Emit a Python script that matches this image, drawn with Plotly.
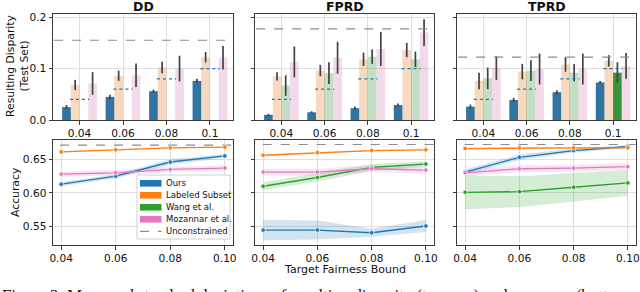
import plotly.graph_objects as go

# ---------------- data ----------------
bounds = [0.04, 0.06, 0.08, 0.10]
bar_labels = ["0.04", "0.06", "0.08", "0.1"]
line_labels = ["0.04", "0.06", "0.08", "0.10"]
metrics = ["DD", "FPRD", "TPRD"]
methods = ["Ours", "Labeled Subset", "Wang et al.", "Mozannar et al."]
unc_name = "Unconstrained"

# resulting disparity (test set): mean and std per method
dd_ours = [0.025, 0.045, 0.056, 0.076]
dd_ours_sd = [0.004, 0.004, 0.003, 0.004]
dd_lab = [0.068, 0.086, 0.102, 0.122]
dd_lab_sd = [0.010, 0.010, 0.011, 0.010]
dd_wang = [None, None, None, None]
dd_wang_sd = [None, None, None, None]
dd_moz = [0.071, 0.087, 0.100, 0.121]
dd_moz_sd = [0.022, 0.023, 0.025, 0.023]

fprd_ours = [0.010, 0.015, 0.023, 0.029]
fprd_ours_sd = [0.002, 0.002, 0.003, 0.003]
fprd_lab = [0.085, 0.096, 0.118, 0.136]
fprd_lab_sd = [0.008, 0.011, 0.013, 0.014]
fprd_wang = [0.067, 0.091, 0.123, 0.118]
fprd_wang_sd = [0.020, 0.021, 0.014, 0.015]
fprd_moz = [0.113, 0.121, 0.138, 0.170]
fprd_moz_sd = [0.030, 0.031, 0.033, 0.026]

tprd_ours = [0.026, 0.039, 0.054, 0.073]
tprd_ours_sd = [0.004, 0.004, 0.004, 0.003]
tprd_lab = [0.076, 0.094, 0.108, 0.115]
tprd_lab_sd = [0.016, 0.015, 0.014, 0.011]
tprd_wang = [0.081, 0.096, 0.092, 0.092]
tprd_wang_sd = [0.021, 0.020, 0.017, 0.020]
tprd_moz = [0.101, 0.099, 0.099, 0.105]
tprd_moz_sd = [0.023, 0.030, 0.030, 0.025]

unc_disp = [0.155, 0.177, 0.122]

# accuracy: mean and std per method
acc_dd_ours = [0.613, 0.625, 0.646, 0.655]
acc_dd_ours_sd = [0.003, 0.003, 0.004, 0.003]
acc_dd_lab = [0.661, 0.664, 0.667, 0.668]
acc_dd_lab_sd = [0.001, 0.001, 0.001, 0.001]
acc_dd_wang = [None, None, None, None]
acc_dd_wang_sd = [None, None, None, None]
acc_dd_moz = [0.628, 0.630, 0.635, 0.637]
acc_dd_moz_sd = [0.004, 0.004, 0.004, 0.004]

acc_fprd_ours = [0.545, 0.545, 0.541, 0.551]
acc_fprd_ours_sd = [0.015, 0.014, 0.006, 0.009]
acc_fprd_lab = [0.656, 0.660, 0.663, 0.664]
acc_fprd_lab_sd = [0.001, 0.001, 0.001, 0.001]
acc_fprd_wang = [0.610, 0.623, 0.638, 0.643]
acc_fprd_wang_sd = [0.006, 0.006, 0.005, 0.004]
acc_fprd_moz = [0.631, 0.631, 0.636, 0.634]
acc_fprd_moz_sd = [0.005, 0.005, 0.005, 0.005]

acc_tprd_ours = [0.631, 0.653, 0.663, 0.669]
acc_tprd_ours_sd = [0.004, 0.004, 0.003, 0.002]
acc_tprd_lab = [0.666, 0.667, 0.667, 0.667]
acc_tprd_lab_sd = [0.001, 0.001, 0.001, 0.001]
acc_tprd_wang = [0.601, 0.602, 0.6085, 0.615]
acc_tprd_wang_sd = [0.025, 0.023, 0.021, 0.019]
acc_tprd_moz = [0.630, 0.636, 0.637, 0.639]
acc_tprd_moz_sd = [0.005, 0.005, 0.005, 0.005]

unc_acc = [0.671, 0.672, 0.672]

caption = ("Figure 2: Mean and standard deviations of resulting disparity "
           "(top row) and accuracy (bottom row) of the methods")

# ---------------- style ----------------
bar_full = ["#3274a1", "#e1812c", "#3a923a", "#d684bd"]
bar_faded = ["rgba(50,116,161,0.3)", "rgba(225,129,44,0.3)",
             "rgba(58,146,58,0.3)", "rgba(214,132,189,0.3)"]
line_col = ["#1f77b4", "#ff7f0e", "#2ca02c", "#e377c2"]
band_col = ["rgba(31,119,180,0.2)", "rgba(255,127,14,0.2)",
            "rgba(44,160,44,0.2)", "rgba(227,119,194,0.2)"]
unc_col = "#8c8c8c"

W, H = 640, 292
xdom = [(53, 233), (255, 434), (457, 636)]
top_y = (14, 120)
bot_y = (139.5, 245)


def px_x(a, b):
    return [a / W, b / W]


def px_y(a, b):
    return [1 - b / H, 1 - a / H]


disp = {
    "DD": [(dd_ours, dd_ours_sd), (dd_lab, dd_lab_sd), (dd_wang, dd_wang_sd), (dd_moz, dd_moz_sd)],
    "FPRD": [(fprd_ours, fprd_ours_sd), (fprd_lab, fprd_lab_sd), (fprd_wang, fprd_wang_sd), (fprd_moz, fprd_moz_sd)],
    "TPRD": [(tprd_ours, tprd_ours_sd), (tprd_lab, tprd_lab_sd), (tprd_wang, tprd_wang_sd), (tprd_moz, tprd_moz_sd)],
}
acc = {
    "DD": [(acc_dd_ours, acc_dd_ours_sd), (acc_dd_lab, acc_dd_lab_sd), (acc_dd_wang, acc_dd_wang_sd), (acc_dd_moz, acc_dd_moz_sd)],
    "FPRD": [(acc_fprd_ours, acc_fprd_ours_sd), (acc_fprd_lab, acc_fprd_lab_sd), (acc_fprd_wang, acc_fprd_wang_sd), (acc_fprd_moz, acc_fprd_moz_sd)],
    "TPRD": [(acc_tprd_ours, acc_tprd_ours_sd), (acc_tprd_lab, acc_tprd_lab_sd), (acc_tprd_wang, acc_tprd_wang_sd), (acc_tprd_moz, acc_tprd_moz_sd)],
}

fig = go.Figure()
layout = {}
axis_common = dict(showline=True, mirror=True, linecolor="#3a3a3a", linewidth=1,
                   gridcolor="#dedede", gridwidth=1, zeroline=False, automargin=False,
                   ticks="outside", ticklen=3.5, tickcolor="#3a3a3a",
                   tickfont=dict(size=10.6, color="#111"))
cats = list(range(len(bounds)))
bw = 0.2

for k, m in enumerate(metrics):
    tx, ty = 2 * k + 1, 2 * k + 2  # top axes, bottom axes
    txs = "x" if tx == 1 else f"x{tx}"
    tys = "y" if tx == 1 else f"y{tx}"
    bxs, bys = f"x{ty}", f"y{ty}"

    # ---- top: bars ----
    for j in range(4):
        vals, sds = disp[m][j]
        if all(v is None for v in vals):
            continue
        cols = [bar_full[j] if (v is not None and v <= b + 1e-9) else bar_faded[j]
                for v, b in zip(vals, bounds)]
        fig.add_trace(go.Bar(
            x=[c + (j - 1.5) * bw for c in cats], y=vals, width=bw,
            marker=dict(color=cols, line=dict(width=0)),
            error_y=dict(type="data", array=sds, visible=True, color="#424242",
                         thickness=1.7, width=0),
            xaxis=txs, yaxis=tys, showlegend=False, hoverinfo="skip"))
    # target bound dotted segments
    sx, sy = [], []
    for c, b in zip(cats, bounds):
        sx += [c - 0.22, c + 0.22, None]
        sy += [b, b, None]
    fig.add_trace(go.Scatter(x=sx, y=sy, mode="lines",
                             line=dict(color="#1f77b4", dash="dot", width=1.2),
                             xaxis=txs, yaxis=tys, showlegend=False, hoverinfo="skip"))
    # unconstrained
    fig.add_trace(go.Scatter(x=[-1, 5], y=[unc_disp[k]] * 2, mode="lines",
                             line=dict(color=unc_col, dash="dash", width=1.2),
                             xaxis=txs, yaxis=tys, showlegend=False, hoverinfo="skip"))

    # ---- bottom: lines with bands ----
    fig.add_trace(go.Scatter(x=[0.0, 0.2], y=[unc_acc[k]] * 2, mode="lines",
                             line=dict(color=unc_col, dash="dash", width=1.2),
                             xaxis=bxs, yaxis=bys, showlegend=False, hoverinfo="skip"))
    for j in range(4):
        vals, sds = acc[m][j]
        if all(v is None for v in vals):
            continue
        up = [v + s for v, s in zip(vals, sds)]
        lo = [v - s for v, s in zip(vals, sds)]
        fig.add_trace(go.Scatter(x=bounds, y=up, mode="lines", line=dict(width=0),
                                 xaxis=bxs, yaxis=bys, showlegend=False, hoverinfo="skip"))
        fig.add_trace(go.Scatter(x=bounds, y=lo, mode="lines", line=dict(width=0),
                                 fill="tonexty", fillcolor=band_col[j],
                                 xaxis=bxs, yaxis=bys, showlegend=False, hoverinfo="skip"))
    for j in range(4):
        vals, sds = acc[m][j]
        if all(v is None for v in vals):
            continue
        fig.add_trace(go.Scatter(x=bounds, y=vals, mode="lines+markers",
                                 line=dict(color=line_col[j], width=1.3),
                                 marker=dict(size=4.5, color=line_col[j],
                                             line=dict(color="white", width=0.7)),
                                 xaxis=bxs, yaxis=bys, showlegend=False, hoverinfo="skip"))

    # axes
    kx = "xaxis" if tx == 1 else f"xaxis{tx}"
    ky = "yaxis" if tx == 1 else f"yaxis{tx}"
    layout[kx] = dict(axis_common, domain=px_x(*xdom[k]), anchor=tys,
                      range=[-0.61, 3.53], tickvals=cats, ticktext=bar_labels)
    layout[ky] = dict(axis_common, domain=px_y(*top_y), anchor=txs,
                      range=[0, 0.206], tickvals=[0, 0.1, 0.2],
                      ticktext=["0.0", "0.1", "0.2"], showticklabels=(k == 0))
    layout[f"xaxis{ty}"] = dict(axis_common, domain=px_x(*xdom[k]), anchor=bys,
                                range=[0.037, 0.103], tickvals=bounds, ticktext=line_labels)
    layout[f"yaxis{ty}"] = dict(axis_common, domain=px_y(*bot_y), anchor=bxs,
                                range=[0.5228, 0.6794], tickvals=[0.55, 0.60, 0.65],
                                ticktext=["0.55", "0.60", "0.65"], showticklabels=(k == 0))

annotations = []
shapes = []
for k, m in enumerate(metrics):
    annotations.append(dict(text=f"<b>{m}</b>", x=sum(xdom[k]) / 2 / W, y=1 - 7 / H,
                            xref="paper", yref="paper", showarrow=False,
                            xanchor="center", yanchor="middle",
                            font=dict(size=12.5, color="#111")))
annotations.append(dict(text="Resulting Disparity<br>(Test Set)", textangle=-90,
                        x=17 / W, y=1 - 66 / H, xref="paper", yref="paper",
                        xanchor="center", yanchor="middle",
                        showarrow=False, font=dict(size=10.8, color="#111")))
annotations.append(dict(text="Accuracy", textangle=-90, x=15 / W, y=1 - 192 / H,
                        xref="paper", yref="paper", showarrow=False,
                        xanchor="center", yanchor="middle",
                        font=dict(size=10.8, color="#111")))
annotations.append(dict(text="Target Fairness Bound", x=sum(xdom[1]) / 2 / W,
                        y=1 - 269 / H, xref="paper", yref="paper", showarrow=False,
                        xanchor="center", yanchor="middle",
                        font=dict(size=11, color="#111")))
annotations.append(dict(text=caption, x=0, y=1 - 283.5 / H, xanchor="left", yanchor="top",
                        xref="paper", yref="paper", showarrow=False,
                        font=dict(size=16.8, color="#111", family="Liberation Serif")))

# legend (drawn inside the DD accuracy panel)
lg_x0, lg_x1, lg_y0, lg_y1 = 137, 230, 175, 239
shapes.append(dict(type="rect", xref="paper", yref="paper", layer="above",
                   x0=lg_x0 / W, x1=lg_x1 / W, y0=1 - lg_y1 / H, y1=1 - lg_y0 / H,
                   fillcolor="rgba(255,255,255,0.82)", line=dict(color="#d0d0d0", width=1)))
entries = methods + [unc_name]
for i, name in enumerate(entries):
    yc = 183.3 + i * 12
    if i < 4:
        shapes.append(dict(type="rect", xref="paper", yref="paper", layer="above",
                           x0=140 / W, x1=161.5 / W, y0=1 - (yc + 3.3) / H, y1=1 - (yc - 3.3) / H,
                           fillcolor=line_col[i], line=dict(width=0)))
    else:
        shapes.append(dict(type="line", xref="paper", yref="paper", layer="above",
                           x0=140 / W, x1=161.5 / W, y0=1 - yc / H, y1=1 - yc / H,
                           line=dict(color=unc_col, dash="dash", width=1.2)))
    annotations.append(dict(text=name, x=164 / W, y=1 - yc / H, xref="paper", yref="paper",
                            xanchor="left", yanchor="middle", showarrow=False,
                            font=dict(size=8.5, color="#111")))

fig.update_layout(
    width=W, height=H, margin=dict(l=0, r=0, t=0, b=0, autoexpand=False),
    paper_bgcolor="white", plot_bgcolor="white",
    font=dict(family="DejaVu Sans", color="#111"),
    barmode="overlay", showlegend=False,
    annotations=annotations, shapes=shapes,
    **layout,
)

fig.write_html("out.html", config={"displayModeBar": False},
               post_script="document.body.style.margin='0';document.body.style.overflow='hidden';")
